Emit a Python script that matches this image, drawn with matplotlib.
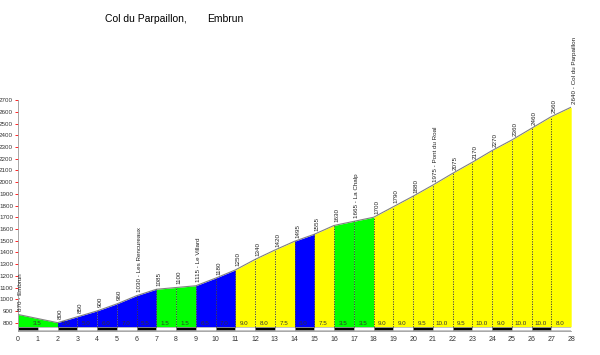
import matplotlib
matplotlib.use("Agg")
import matplotlib.pyplot as plt

plt.rcParams['font.family'] = ['Liberation Sans', 'DejaVu Sans']

# profile points (km, altitude)
km = [0, 2, 3, 4, 5, 6, 7, 8, 9, 10, 11, 12, 13, 14, 15, 16, 17, 18, 19, 20,
      21, 22, 23, 24, 25, 26, 27, 28]
alt = [870, 800, 850, 900, 960, 1030, 1085, 1100, 1115, 1180, 1250, 1340, 1420,
       1495, 1555, 1630, 1665, 1700, 1790, 1880, 1975, 2075, 2170, 2270, 2360,
       2460, 2560, 2640]
places = {0: 'Embrun', 6: 'Les Rencureaux', 9: 'Le Villard', 17: 'La Chalp',
          21: 'Pont du Roal', 28: 'Col du Parpaillon'}
# gradient of each segment (%)
grade = [3.5, 5.0, 5.0, 6.0, 7.0, 5.5, 1.5, 1.5, 6.5, 7.0, 9.0, 8.0, 7.5, 6.0,
         7.5, 3.5, 3.5, 9.0, 9.0, 9.5, 10.0, 9.5, 10.0, 9.0, 10.0, 10.0, 8.0]
yticks = list(range(800, 2701, 100))
xticks = list(range(0, 29))


def grade_color(g):
    if g < 5:
        return '#00ff00'
    if g < 7.5:
        return '#0000ff'
    return '#ffff00'


fig = plt.figure(figsize=(6, 3.55), dpi=100)
ax = fig.add_axes([0.03, 0.068, 0.922, 0.65])

base = 765
for i in range(len(grade)):
    x0, x1 = km[i], km[i + 1]
    ax.fill_between([x0, x1], [base, base], [alt[i], alt[i + 1]],
                    color=grade_color(grade[i]), lw=0)
    ax.text((x0 + x1) / 2 - 0.05, 790, '%.1f' % grade[i], fontsize=4.5,
            ha='center', va='center', color='#333333')

ax.plot(km, alt, color='#808080', lw=0.8)

for i in range(1, len(km) - 1):
    ax.plot([km[i], km[i]], [base, alt[i]], color='#333333', lw=0.6,
            ls=(0, (1.5, 1.5)))

# black / white kilometre bar
for k in range(28):
    fc = 'black' if k % 2 == 0 else 'white'
    ax.bar(k, 30, bottom=735, width=1, align='edge', color=fc,
           edgecolor='#999999', lw=0.4)

for k, a in zip(km, alt):
    label = str(a)
    if k in places:
        label = label + ' - ' + places[k]
    ax.text(k + 0.15, a + 30, label, rotation=90, fontsize=4.5, ha='center',
            va='bottom', color='#222222', clip_on=False)

ax.set_xlim(0, 28)
ax.set_ylim(730, 2700)
ax.set_yticks(yticks)
ax.set_xticks(xticks)
ax.tick_params(axis='y', labelsize=4.5, length=2, width=0.6, color='red',
               pad=1.5, labelcolor='#333333')
ax.tick_params(axis='x', labelsize=5, length=0, pad=4, labelcolor='#333333')
for s in ['top', 'right']:
    ax.spines[s].set_visible(False)
ax.spines['left'].set_color('#999999')
ax.spines['bottom'].set_color('#999999')
ax.spines['left'].set_linewidth(0.6)
ax.spines['bottom'].set_linewidth(0.6)

fig.text(105 / 600, 1 - 19 / 355, 'Col du Parpaillon,', fontsize=7.5,
         va='center', ha='left')
fig.text(207 / 600, 1 - 19 / 355, 'Embrun', fontsize=7.5, va='center',
         ha='left')

fig.savefig('out.png', dpi=100)
